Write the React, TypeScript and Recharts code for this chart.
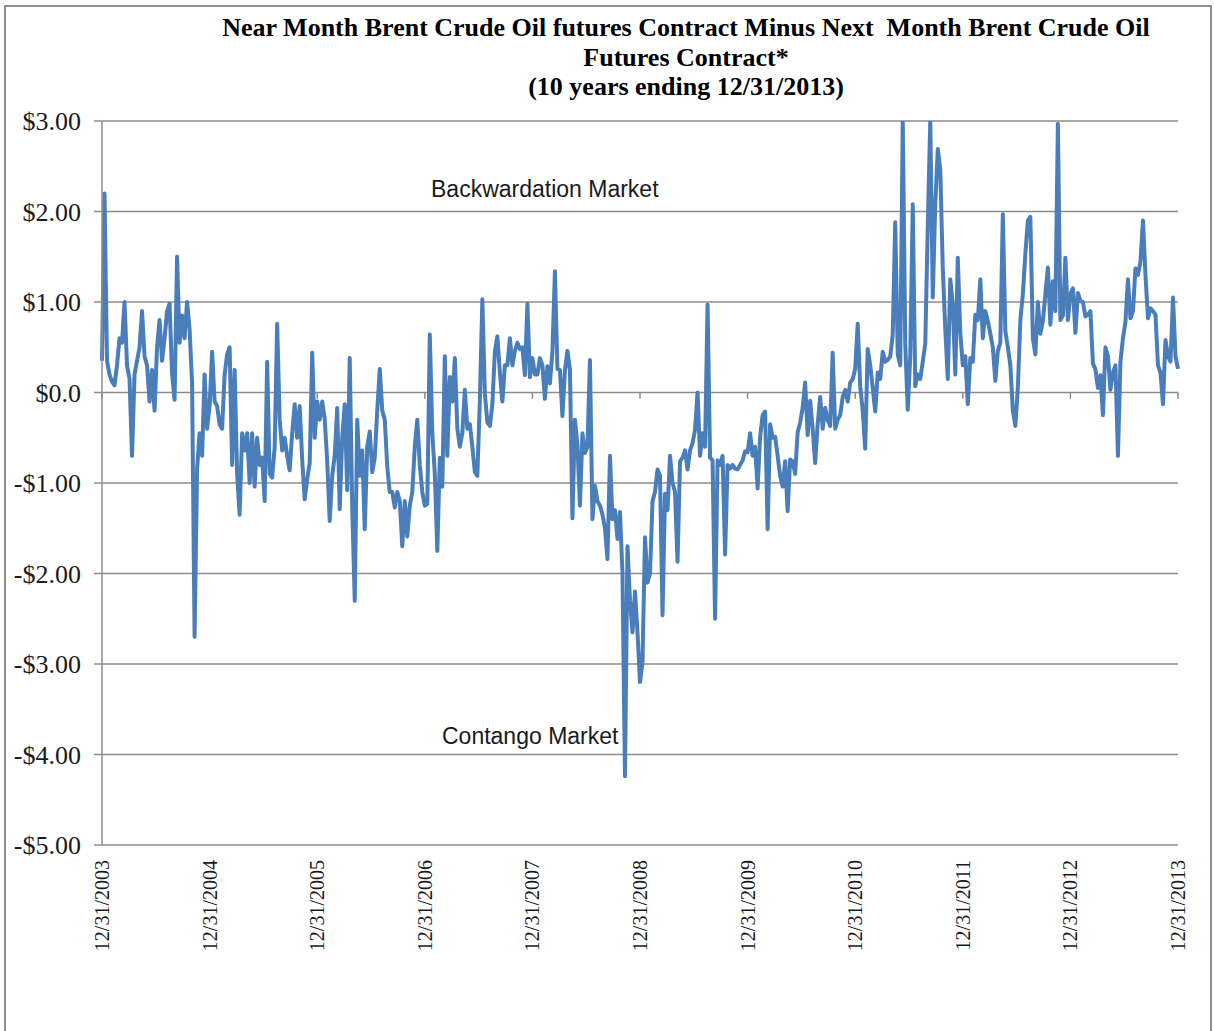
import { LineChart, Line, XAxis, YAxis, CartesianGrid, ReferenceLine } from "recharts";

// x axis: one label per year end, the data is sampled evenly inside each year
const yearLabels = [
  "12/31/2003", "12/31/2004", "12/31/2005", "12/31/2006", "12/31/2007", "12/31/2008",
  "12/31/2009", "12/31/2010", "12/31/2011", "12/31/2012", "12/31/2013",
];
const yTicks = [-5, -4, -3, -2, -1, 0, 1, 2, 3];
const yTickLabels = ["-$5.00", "-$4.00", "-$3.00", "-$2.00", "-$1.00", "$0.0", "$1.00", "$2.00", "$3.00"];

// near month minus next month, $ per barrel
const spread2004 = [0.35, 2.2, 0.35, 0.2, 0.12, 0.08, 0.3, 0.6, 0.55, 1.0, 0.3, 0.15, -0.7, 0.2, 0.35, 0.5, 0.9, 0.4, 0.3, -0.1, 0.25, -0.2, 0.5, 0.8, 0.35, 0.6, 0.9, 0.98, 0.2, -0.08, 1.5, 0.55, 0.85, 0.6, 1.0, 0.7, 0.1, -2.7, -0.85, -0.45, -0.7, 0.2, -0.4];
const spread2005 = [-0.15, 0.45, -0.1, -0.15, -0.35, -0.4, 0.2, 0.42, 0.5, -0.8, 0.25, -0.9, -1.35, -0.45, -0.64, -0.45, -1.0, -0.45, -1.04, -0.5, -0.8, -0.72, -1.2, 0.34, -0.9, -0.94, -0.6, 0.76, -0.3, -0.64, -0.5, -0.7, -0.86, -0.45, -0.13, -0.5, -0.15, -0.74, -1.18, -0.96, -0.78, 0.44, -0.5];
const spread2006 = [-0.1, -0.3, -0.1, -0.29, -0.76, -1.42, -0.92, -0.7, -0.17, -1.29, -0.5, -0.13, -1.08, 0.38, -1.27, -2.3, -0.3, -0.92, -0.64, -1.51, -0.6, -0.43, -0.88, -0.72, -0.2, 0.26, -0.2, -0.3, -0.82, -1.1, -1.1, -1.27, -1.1, -1.2, -1.7, -1.2, -1.59, -1.25, -1.1, -0.6, -0.3, -0.8, -1.1];
const spread2007 = [-1.25, -1.23, 0.64, -0.45, -0.9, -1.75, -0.72, -1.04, 0.4, -0.7, 0.17, -0.1, 0.38, -0.4, -0.6, -0.45, 0.03, -0.4, -0.35, -0.6, -0.88, -0.92, -0.09, 1.03, -0.01, -0.33, -0.37, -0.13, 0.45, 0.62, 0.22, -0.1, 0.3, 0.3, 0.6, 0.3, 0.46, 0.55, 0.48, 0.5, 0.19, 0.98, 0.17];
const spread2008 = [0.38, 0.2, 0.2, 0.38, 0.3, -0.07, 0.29, 0.1, 0.45, 1.34, 0.26, 0.25, -0.26, 0.24, 0.46, 0.25, -1.39, -0.3, -0.58, -1.25, -0.45, -0.67, -0.6, 0.36, -1.4, -1.03, -1.2, -1.25, -1.35, -1.5, -1.84, -0.7, -1.4, -1.3, -1.62, -1.32, -2.0, -4.24, -1.7, -2.3, -2.65, -2.2, -2.65];
const spread2009 = [-3.2, -2.98, -1.6, -2.1, -2.0, -1.2, -1.1, -0.85, -0.92, -2.46, -1.12, -1.3, -0.7, -1.0, -1.1, -1.87, -0.76, -0.72, -0.64, -0.85, -0.64, -0.56, -0.41, 0.0, -0.7, -0.45, -0.6, 0.97, -0.72, -0.75, -2.5, -0.75, -0.8, -0.7, -1.79, -0.8, -0.84, -0.8, -0.84, -0.85, -0.8, -0.75, -0.65];
const spread2010 = [-0.66, -0.45, -0.7, -0.6, -1.06, -0.49, -0.25, -0.21, -1.51, -0.35, -0.5, -0.49, -0.7, -0.92, -1.04, -0.76, -1.31, -0.74, -0.76, -0.9, -0.44, -0.33, -0.17, 0.11, -0.47, -0.09, -0.4, -0.78, -0.35, -0.05, -0.4, -0.17, -0.3, -0.37, 0.44, -0.4, -0.3, -0.25, -0.05, 0.03, -0.1, 0.11, 0.15];
const spread2011 = [0.26, 0.76, 0.07, -0.2, -0.62, 0.48, 0.3, 0.05, -0.21, 0.22, 0.15, 0.45, 0.34, 0.36, 0.4, 0.64, 1.88, 0.42, 0.3, 3.0, 0.54, -0.19, 0.4, 2.08, 0.07, 0.2, 0.15, 0.34, 0.54, 1.84, 3.0, 1.05, 2.08, 2.69, 2.47, 1.37, 0.7, 0.15, 1.25, 0.97, 0.2, 1.49, 0.66];
const spread2012 = [0.3, 0.4, -0.13, 0.38, 0.34, 0.86, 0.8, 1.25, 0.6, 0.9, 0.79, 0.65, 0.5, 0.13, 0.46, 0.55, 1.97, 0.68, 0.5, 0.3, -0.2, -0.37, 0.05, 0.8, 1.09, 1.53, 1.9, 1.94, 0.6, 0.42, 1.0, 0.65, 0.79, 1.09, 1.38, 0.75, 1.23, 0.9, 2.97, 0.8, 0.85, 1.49, 0.8];
// last year carries the closing 12/31/2013 value too
const spread2013 = [1.09, 1.15, 0.66, 1.1, 1.01, 1.0, 0.84, 0.86, 0.9, 0.32, 0.26, 0.05, 0.19, -0.25, 0.5, 0.4, 0.03, 0.22, 0.3, -0.7, 0.34, 0.6, 0.78, 1.25, 0.82, 0.9, 1.37, 1.3, 1.45, 1.9, 1.3, 0.82, 0.93, 0.9, 0.86, 0.3, 0.22, -0.13, 0.58, 0.4, 0.34, 1.05, 0.4, 0.26];

const SAMPLES_PER_YEAR = 43;
const yearSeries = [
  spread2004, spread2005, spread2006, spread2007, spread2008,
  spread2009, spread2010, spread2011, spread2012, spread2013,
];

const data = yearSeries.flatMap((vals, k) =>
  vals.map((v, i) => ({ t: k + i / SAMPLES_PER_YEAR, spread: v }))
);
const yearTicks = yearLabels.map((_, i) => i);

const GRID = "#8c8c8c";
const SERIF = "'Liberation Serif', 'Times New Roman', serif";
const SANS = "'Liberation Sans', Arial, sans-serif";

function DateTick(props: any) {
  const { x, y, payload } = props;
  return (
    <text
      x={x}
      y={y}
      transform={`rotate(-90, ${x}, ${y})`}
      textAnchor="end"
      dy="0.35em"
      fontSize={20}
      fontFamily={SERIF}
      fill="#1a1a1a"
    >
      {yearLabels[payload.value]}
    </text>
  );
}

export default function App() {
  return (
    <div
      style={{
        position: "absolute",
        left: 0,
        top: 0,
        width: 1214,
        height: 1031,
        overflow: "hidden",
        background: "#fff",
      }}
    >
      <div
        style={{
          position: "absolute",
          left: 4,
          top: 5,
          width: 1204,
          height: 1100,
          border: "2px solid #8e8e8e",
        }}
      />
      <div style={{ position: "absolute", left: 0, top: 0 }}>
        <LineChart
          width={1214}
          height={1031}
          data={data}
          margin={{ top: 121, right: 36, bottom: 0, left: 0 }}
        >
          <CartesianGrid horizontal vertical={false} stroke={GRID} strokeWidth={1.5} />
          <XAxis
            dataKey="t"
            type="number"
            domain={[0, 10]}
            ticks={yearTicks}
            interval={0}
            height={186}
            axisLine={false}
            tickLine={false}
            tickSize={0}
            tickMargin={15}
            tick={(p: any) => <DateTick {...p} />}
          />
          <YAxis
            type="number"
            domain={[-5, 3]}
            ticks={yTicks}
            interval={0}
            width={102}
            allowDataOverflow
            axisLine={{ stroke: GRID, strokeWidth: 1.5 }}
            tickLine={{ stroke: GRID, strokeWidth: 1.5 }}
            tickSize={8}
            tickMargin={13}
            tick={{ fontSize: 26, fill: "#1a1a1a", fontFamily: SERIF }}
            tickFormatter={(v: number) => yTickLabels[yTicks.indexOf(v)]}
          />
          {yearTicks.map((k) => (
            <ReferenceLine
              key={k}
              segment={[
                { x: k, y: 0 },
                { x: k, y: -0.07 },
              ]}
              stroke={GRID}
              strokeWidth={1.5}
            />
          ))}
          <Line
            type="linear"
            dataKey="spread"
            stroke="#4A7EBB"
            strokeWidth={4}
            strokeLinejoin="round"
            dot={false}
            isAnimationActive={false}
          />
        </LineChart>
      </div>
      <div
        style={{
          position: "absolute",
          left: 186,
          top: 13,
          width: 1000,
          textAlign: "center",
          fontFamily: SERIF,
          fontWeight: "bold",
          fontSize: 26,
          lineHeight: "29.5px",
          color: "#000",
          whiteSpace: "pre",
        }}
      >
        {"Near Month Brent Crude Oil futures Contract Minus Next  Month Brent Crude Oil\nFutures Contract*\n(10 years ending 12/31/2013)"}
      </div>
      <div
        style={{
          position: "absolute",
          left: 431,
          top: 176,
          fontFamily: SANS,
          fontSize: 23,
          lineHeight: "26px",
          color: "#1a1a1a",
          whiteSpace: "nowrap",
        }}
      >
        Backwardation Market
      </div>
      <div
        style={{
          position: "absolute",
          left: 442,
          top: 723,
          fontFamily: SANS,
          fontSize: 23,
          lineHeight: "26px",
          color: "#1a1a1a",
          whiteSpace: "nowrap",
        }}
      >
        Contango Market
      </div>
    </div>
  );
}
